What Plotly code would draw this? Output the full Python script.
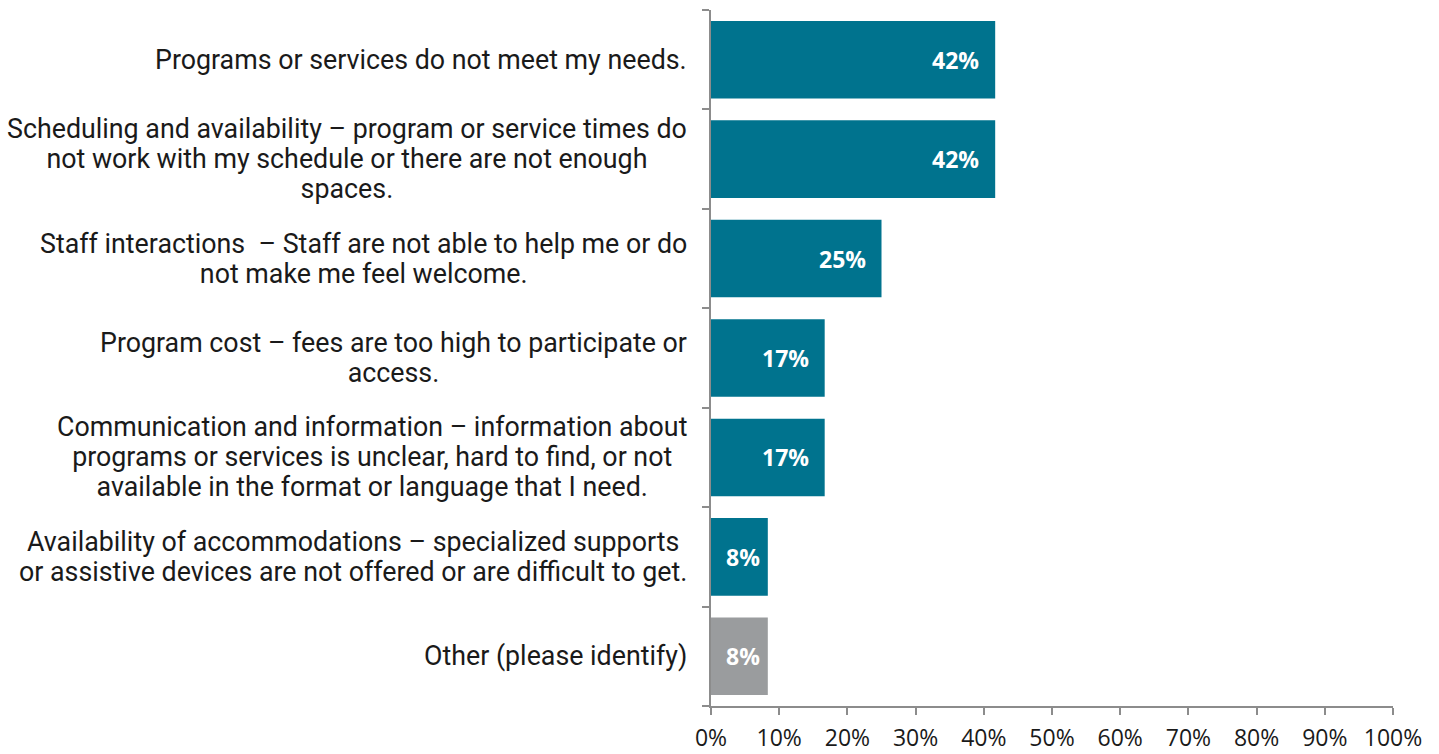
import plotly.graph_objects as go

# Survey responses: barriers to using programs or services (share of respondents, %)
categories = [
    "Programs or services do not meet my needs.",
    "Scheduling and availability – program or service times do<br>not work with my schedule or there are not enough<br>spaces.",
    "Staff interactions  – Staff are not able to help me or do<br>not make me feel welcome.",
    "Program cost – fees are too high to participate or<br>access.",
    "Communication and information – information about<br>programs or services is unclear, hard to find, or not<br>available in the format or language that I need.",
    "Availability of accommodations – specialized supports<br>or assistive devices are not offered or are difficult to get.",
    "Other (please identify)",
]
values = [41.67, 41.67, 25.0, 16.67, 16.67, 8.33, 8.33]
value_labels = ["42%", "42%", "25%", "17%", "17%", "8%", "8%"]
x_ticks = [0, 10, 20, 30, 40, 50, 60, 70, 80, 90, 100]
x_tick_labels = [f"{t}%" for t in x_ticks]

TEAL = "#00738E"
GREY = "#9A9C9E"
AXIS = "#8C8C8C"

ids = list(range(len(categories)))
colors = [GREY if c.startswith("Other") else TEAL for c in categories]

fig = go.Figure(
    go.Bar(
        x=values,
        y=ids,
        orientation="h",
        marker=dict(color=colors, line=dict(width=0)),
        hoverinfo="skip",
    )
)

annotations = []
# Category labels: lines centred within the block, block right-aligned to the axis.
# The base font sets the (tight) line pitch; the span sets the glyph size.
for i, cat in zip(ids, categories):
    styled = "<br>".join(
        f'<span style="font-size:26.8px">{line}</span>' for line in cat.split("<br>")
    )
    annotations.append(dict(
        x=0, xref="paper", y=i, yref="y",
        text=styled, showarrow=False, xanchor="right", yanchor="middle",
        align="center", xshift=-22,
        font=dict(family="Roboto", size=23, color="#1A1A1A"),
    ))

# Value labels placed inside the end of each bar
for i, v, lab in zip(ids, values, value_labels):
    if v >= 12:
        annotations.append(dict(
            x=v, xref="x", y=i, yref="y", text=f"<b>{lab}</b>",
            showarrow=False, xanchor="right", yanchor="middle", xshift=-14,
            font=dict(family="Open Sans", size=23, color="white"),
        ))
    else:
        annotations.append(dict(
            x=v / 2, xref="x", y=i, yref="y", text=f"<b>{lab}</b>",
            showarrow=False, xanchor="center", yanchor="middle", xshift=4,
            font=dict(family="Open Sans", size=23, color="white"),
        ))

fig.update_layout(
    width=1439, height=754,
    margin=dict(l=711, r=46, t=10, b=48, autoexpand=False),
    paper_bgcolor="white", plot_bgcolor="white",
    bargap=0.22,
    showlegend=False,
    annotations=annotations,
    xaxis=dict(
        range=[0, 100], tickvals=x_ticks, ticktext=x_tick_labels,
        showgrid=False, zeroline=False, automargin=False,
        showline=True, linecolor=AXIS, linewidth=2,
        ticks="outside", ticklen=7, tickwidth=2, tickcolor=AXIS,
        ticklabelstandoff=3,
        tickfont=dict(family="Open Sans", size=23, color="#1A1A1A"),
    ),
    yaxis=dict(
        range=[len(categories) - 0.5, -0.5],
        tickvals=[i - 0.5 for i in range(len(categories) + 1)],
        showticklabels=False, automargin=False,
        showgrid=False, zeroline=False,
        showline=True, linecolor=AXIS, linewidth=2,
        ticks="outside", ticklen=7, tickwidth=2, tickcolor=AXIS,
    ),
)

fig.write_html("out.html")
